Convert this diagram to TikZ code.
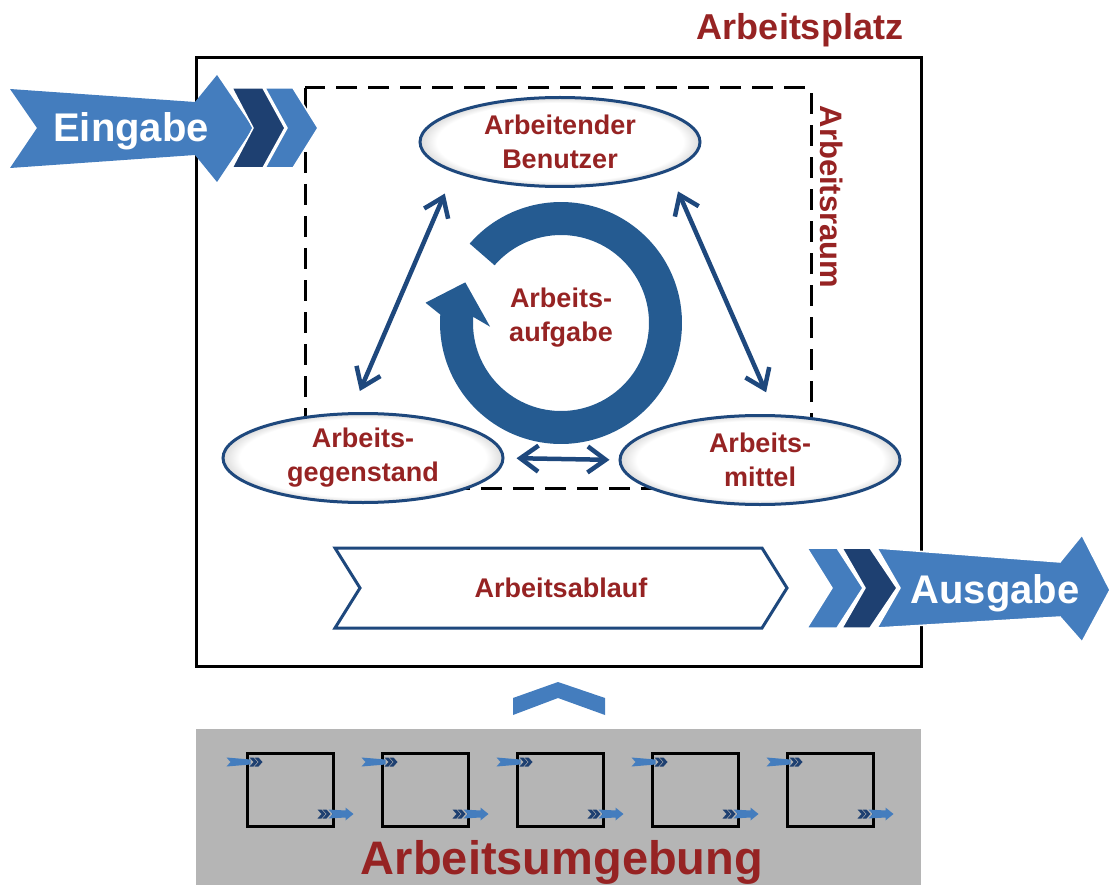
\documentclass[tikz,border=0pt]{standalone}
\usepackage{fontspec}
\setmainfont{Liberation Sans}
\usetikzlibrary{shapes.geometric, shapes.symbols, arrows.meta, positioning}
\definecolor{textred}{RGB}{150,35,35}
\definecolor{lightblue}{RGB}{68,125,190}
\definecolor{darkblue}{RGB}{30,64,113}
\definecolor{ringblue}{RGB}{37,91,145}
\definecolor{edgeblue}{RGB}{30,72,125}
\definecolor{envgray}{RGB}{181,181,181}
\pgfdeclareradialshading{rim}{\pgfpoint{0bp}{0bp}}{color(0bp)=(white); color(22bp)=(white); color(25bp)=(black!14); color(50bp)=(black!14)}

\begin{document}
\begin{tikzpicture}[x=1pt, y=-1pt,
  lbl/.style={text=textred, font=\fontsize{27}{34}\selectfont\bfseries, align=center},
  oval/.style={ellipse, draw=edgeblue, line width=3pt, shade, shading=rim,
               inner sep=0pt, minimum width=280pt, minimum height=89pt, lbl},
  biarrow/.style={{Straight Barb[length=18pt,width=26pt]}-{Straight Barb[length=18pt,width=26pt]},
                  draw=edgeblue, line width=4.5pt},
  flow/.style={signal, signal to=east, signal from=west, signal pointer angle=116,
               draw=edgeblue, line width=3pt, fill=white,
               minimum width=452pt, minimum height=80pt, lbl},
  io/.style={text=white, font=\fontsize{40}{40}\selectfont\bfseries, anchor=base},
  title/.style={text=textred, font=\fontsize{36}{36}\selectfont\bfseries, anchor=base},
  cellbox/.style={draw, line width=3pt, minimum width=86pt, minimum height=73pt, inner sep=0pt},
  gap/.style={draw=white, line width=1.5pt}
]
\useasboundingbox (0,0) rectangle (1110,885);
% Environment
\fill[envgray] (196,729) rectangle (921,885);
\node[title, font=\fontsize{47}{47}\selectfont\bfseries] (umg) at (562,874) {Arbeitsumgebung};
\foreach \i in {0,...,4} {
  \node[cellbox] (c\i) at (290+135*\i,789.5) {};
  \begin{scope}[shift={(c\i.north west)}]
    % in
    \fill[lightblue] (-19,6) -- (5,8) -- (5,13) -- (-19,15) -- (-15,10.5) -- cycle;
    \foreach \d in {0,5}
      \fill[darkblue] (4+\d,6) -- (8+\d,6) -- (12+\d,10.5) -- (8+\d,15) -- (4+\d,15) -- (8+\d,10.5) -- cycle;
    % out
    \foreach \d in {0,5}
      \fill[darkblue] (72+\d,58) -- (76+\d,58) -- (80+\d,62.5) -- (76+\d,67) -- (72+\d,67) -- (76+\d,62.5) -- cycle;
    \fill[lightblue] (83,58) -- (100,59) -- (100,56) -- (108,62.5) -- (100,69) -- (100,66) -- (83,67) -- (87,62.5) -- cycle;
  \end{scope}
}
\fill[lightblue] (513,715) -- (513,698) -- (558,682) -- (605,698) -- (605,715) -- (558,698) -- cycle;

% Workplace and work space
\draw[line width=3pt] (196,58) rectangle (921,666);
\draw[line width=3pt, dash pattern=on 21pt off 11pt] (305,88) rectangle (811,488);
\node[title] (platz) at (800,40) {Arbeitsplatz};
\node[lbl, font=\fontsize{31}{31}\selectfont\bfseries, rotate=-90] (raum) at (832,197) {Arbeitsraum};

% Task cycle
\coordinate (auf) at (561,323);
\begin{scope}[shift={(auf)}]
  \fill[ringblue] (-139:121) arc[start angle=-139, end angle=184, radius=121]
    -- (188.5:137) -- (203:104) -- (177:71) -- (184:88)
    arc[start angle=184, end angle=-139, radius=88] -- cycle;
\end{scope}
\node[lbl] (aufgabe) at (561,318) {Arbeits-\\aufgabe};

% Elements
\node[oval] (benutzer) at (560,142) {Arbeitender\\Benutzer};
\node[oval] (gegenstand) at (363,458) {Arbeits-\\gegenstand};
\node[oval] (mittel) at (760,460) {Arbeits-\\mittel};
\draw[biarrow, shorten <=23pt, shorten >=23pt] (gegenstand.105) -- (benutzer.196);
\draw[biarrow, shorten <=24pt, shorten >=22pt] (mittel.71) -- (benutzer.-15);
\draw[biarrow, shorten <=12pt, shorten >=9pt] (gegenstand.east) -- (mittel.west);
\node[flow] (ablauf) at (561,588) {Arbeitsablauf};

% Input
\fill[lightblue] (10,89) -- (195,102) -- (217,75) -- (253,128) -- (217,182) -- (195,155) -- (10,168) -- (37,128) -- cycle;
\filldraw[gap, fill=darkblue] (232,88) -- (263,88) -- (285,128) -- (263,168) -- (232,168) -- (253,128) -- cycle;
\filldraw[gap, fill=lightblue] (265,88) -- (293,88) -- (318,128) -- (293,168) -- (265,168) -- (287,128) -- cycle;
\node[io] (ein) at (131,142) {Eingabe};
% Output
\filldraw[gap, fill=lightblue] (807,548) -- (837,548) -- (863,588) -- (837,628) -- (807,628) -- (832,588) -- cycle;
\filldraw[gap, fill=darkblue] (842,548) -- (870,548) -- (897,588) -- (870,628) -- (842,628) -- (865,588) -- cycle;
\filldraw[gap, fill=lightblue] (877,548) -- (1060,562) -- (1082,535) -- (1110,590) -- (1082,642) -- (1060,617) -- (877,628) -- (900,588) -- cycle;
\node[io] (aus) at (995,603) {Ausgabe};
\end{tikzpicture}
\end{document}
